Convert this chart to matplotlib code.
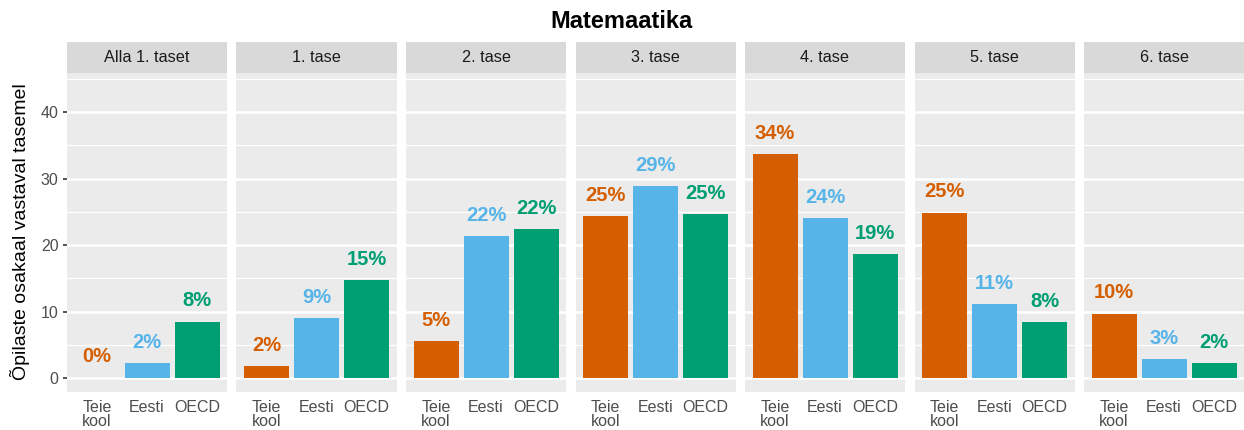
import matplotlib.pyplot as plt
from matplotlib.ticker import MultipleLocator

plt.rcParams['font.family'] = ['Liberation Sans', 'DejaVu Sans']

W, H = 1244, 430

levels = ['Alla 1. taset', '1. tase', '2. tase', '3. tase', '4. tase', '5. tase', '6. tase']
groups = ['Teie\nkool', 'Eesti', 'OECD']
colors = ['#D55E00', '#56B4E9', '#009E73']

teie_kool = [0.08, 1.8, 5.5, 24.4, 33.7, 24.9, 9.7]
eesti = [2.2, 9.0, 21.4, 28.9, 24.1, 11.2, 2.8]
oecd = [8.5, 14.8, 22.4, 24.7, 18.6, 8.4, 2.2]

teie_kool_lbl = [0, 2, 5, 25, 34, 25, 10]
eesti_lbl = [2, 9, 22, 29, 24, 11, 3]
oecd_lbl = [8, 15, 22, 25, 19, 8, 2]

fig = plt.figure(figsize=(W / 100, H / 100), dpi=100)
fig.text(0.5, 1 - 22 / H, 'Matemaatika', ha='center', va='center',
         fontsize=17, fontweight='bold')
fig.text(10 / W, 1 - 232 / H, 'Õpilaste osakaal vastaval tasemel', rotation=90,
         ha='left', va='center', fontsize=14)


def px_axes(x0, y0, w, h):
    # pixel box measured from top-left
    return fig.add_axes([x0 / W, 1 - (y0 + h) / H, w / W, h / H])


for i, level in enumerate(levels):
    left = 67 + i * 169.5
    ax = px_axes(left, 73, 160, 319)
    vals = [teie_kool[i], eesti[i], oecd[i]]
    lbls = [teie_kool_lbl[i], eesti_lbl[i], oecd_lbl[i]]
    ax.set_facecolor('#EBEBEB')
    ax.bar(range(3), vals, width=0.9, color=colors, zorder=3)
    for j in range(3):
        ax.text(j, vals[j] + 3.1, f'{lbls[j]}%', ha='center', va='center',
                color=colors[j], fontsize=14.5, fontweight='bold', zorder=4)
    ax.set_xlim(-0.6, 2.6)
    ax.set_ylim(-2.1, 45.9)
    ax.yaxis.set_major_locator(MultipleLocator(10))
    ax.yaxis.set_minor_locator(MultipleLocator(5))
    ax.grid(which='major', axis='y', color='white', lw=1.8, zorder=1)
    ax.grid(which='minor', axis='y', color='white', lw=0.9, zorder=1)
    ax.set_xticks(range(3))
    ax.set_xticklabels(groups, fontsize=11.5, color='#4D4D4D', linespacing=0.88)
    ax.tick_params(axis='x', length=0, pad=6)
    ax.tick_params(axis='y', which='minor', length=0)
    if i == 0:
        ax.tick_params(axis='y', which='major', length=3, width=1.2,
                       color='#333333', labelsize=11.5, labelcolor='#4D4D4D', pad=3)
    else:
        ax.tick_params(axis='y', which='major', length=0, labelleft=False)
    for s in ax.spines.values():
        s.set_visible(False)

    strip = px_axes(left, 42, 160, 31)
    strip.set_facecolor('#D9D9D9')
    strip.set_xticks([])
    strip.set_yticks([])
    for s in strip.spines.values():
        s.set_visible(False)
    strip.text(0.5, 0.5, level, ha='center', va='center', fontsize=11.7,
               color='#1A1A1A', transform=strip.transAxes)

fig.savefig('out.png', dpi=100)
